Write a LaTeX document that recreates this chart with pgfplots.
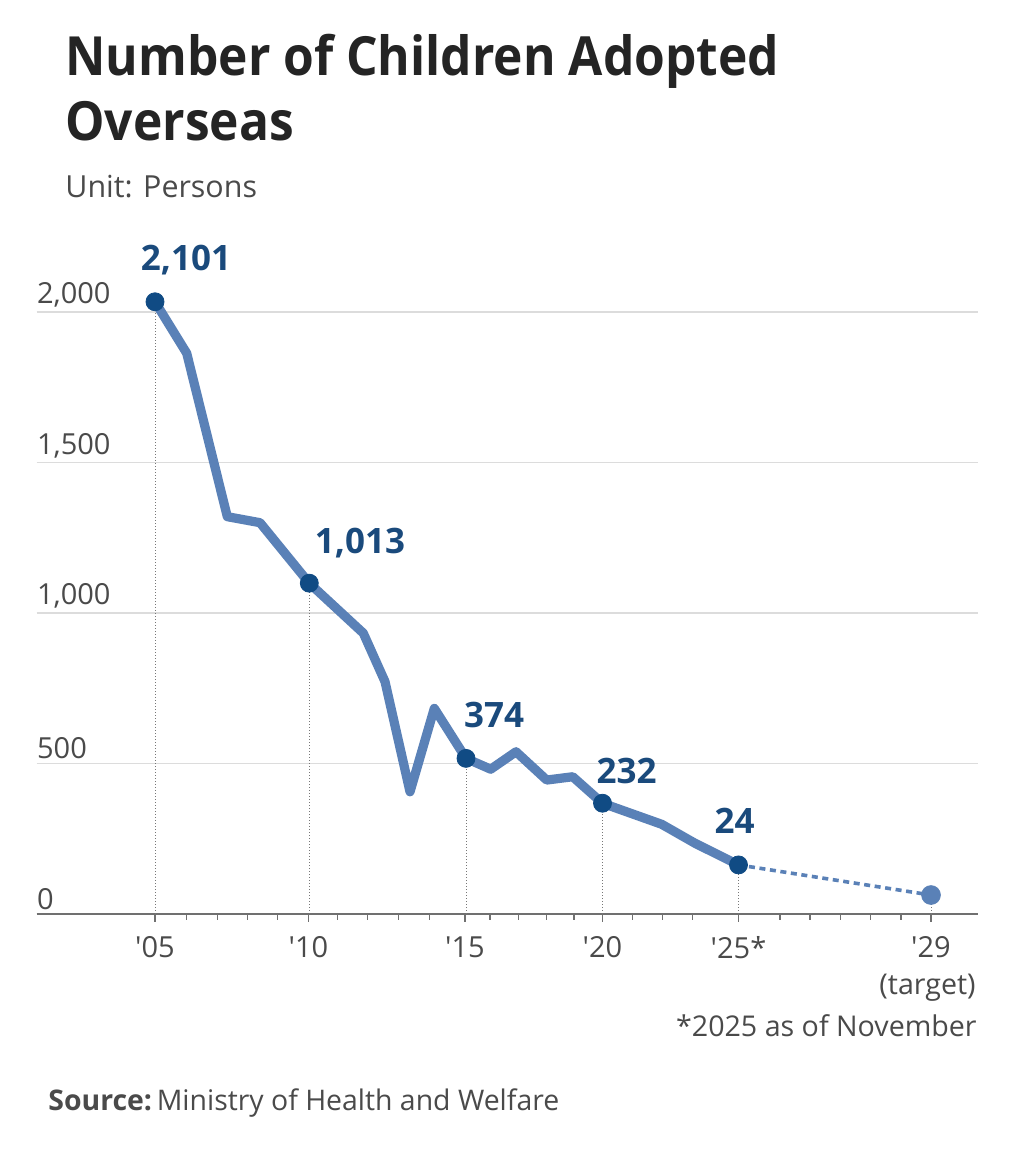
\documentclass[border=0pt]{standalone}
\usepackage{fontspec}
\setmainfont{Open Sans}
\newfontfamily\titlefont[FakeStretch=0.92]{Open Sans}
\usepackage{pgfplots}
\pgfplotsset{compat=1.18}
\definecolor{lineblue}{HTML}{5A81B7}
\definecolor{dotblue}{HTML}{104B84}
\definecolor{labblue}{HTML}{1A4A7C}
\definecolor{gridgray}{HTML}{DCDCDC}
\definecolor{axisgray}{HTML}{707070}
\definecolor{ticktext}{HTML}{4A4A4A}
\definecolor{titlecol}{HTML}{242424}
\definecolor{droplinecol}{HTML}{777777}
\begin{document}
\begin{tikzpicture}
\useasboundingbox (0,0) rectangle (512pt,578pt);
\fill[white] (0,0) rectangle (512pt,578pt);
\begin{axis}[
  at={(18.35pt,121pt)}, anchor=south west,
  scale only axis, width=470.65pt, height=301pt,
  xmin=36.7, xmax=978, ymin=0, ymax=2000,
  clip=false,
  axis x line=bottom, axis y line=left,
  y axis line style={draw=none},
  x axis line style={axisgray, line width=0.75pt, -},
  ytick={0,500,1000,1500,2000},
  ymajorgrids, grid style={gridgray, line width=0.6pt},
  major y tick style={draw=none},
  xtick={155,308.5,465,602.5,738.5,931},
  xticklabels={\textquotesingle 05,\textquotesingle 10,\textquotesingle 15,\textquotesingle 20,\textquotesingle 25*,\textquotesingle 29},
  minor xtick={186.7,217.3,247.7,277.3,337.7,367.7,398.3,429.3,490,518.3,546.7,574,632.5,662.5,692.5,780,810,840.7,870.7,901},
  tick align=outside,
  major tick length=4pt, minor tick length=3pt,
  every tick/.style={axisgray, line width=0.6pt},
  /pgf/number format/.cd, 1000 sep={,}, assume math mode=true,
  /pgfplots/.cd,
  scaled y ticks=false,
  ticklabel style={font=\fontsize{14.5}{16}\selectfont, text=ticktext},
  yticklabel style={anchor=south west, inner sep=0pt, xshift=4pt, yshift=2pt},
  xticklabel style={anchor=north, inner sep=0pt, yshift=-7pt},
]
\addplot[ycomb, densely dotted, droplinecol, line width=0.5pt, no marks] coordinates {
  (155,2034) (309.3,1099) (466,517) (602.5,368) (738.5,163) (931,63)};
\addplot[lineblue, line width=1.8pt, dash pattern=on 3pt off 2.3pt, no marks] coordinates {
  (738.5,163) (931,63)};
\addplot[lineblue, line width=4.6pt, line join=round, no marks] coordinates {
  (155,2034) (186.7,1863) (227.3,1320) (260,1300) (309.3,1099)
  (363.3,933) (385,772) (410,406) (434.3,683) (466,517)
  (490.7,481) (516,539) (546.7,445) (572.7,456) (602.5,368)
  (661.7,298) (695,235) (738.5,163)};
\addplot[only marks, mark=*, mark size=4.5pt, color=dotblue] coordinates {
  (155,2034) (309.3,1099) (466,517) (602.5,368) (738.5,163)};
\addplot[only marks, mark=*, mark size=4.7pt, color=lineblue] coordinates {
  (931,63)};
\begin{scope}[every node/.style={font=\bfseries\fontsize{17.5}{19}\selectfont, text=labblue, anchor=base, inner sep=0pt}]
\node at (axis cs:186,2139.5) {2,101};
\node at (axis cs:360,1198) {1,013};
\node at (axis cs:494,619) {374};
\node at (axis cs:626.5,432) {232};
\node at (axis cs:734.5,266) {24};
\end{scope}
\end{axis}
\begin{scope}[x=0.5pt, y=-0.5pt, shift={(0pt,578pt)}]
\node[anchor=base west, inner sep=0pt, font=\titlefont\bfseries\fontsize{27}{30}\selectfont, text=titlecol] at (65,76) {Number of Children Adopted};
\node[anchor=base west, inner sep=0pt, font=\titlefont\bfseries\fontsize{27}{30}\selectfont, text=titlecol] at (65,141) {Overseas};
\node[anchor=base west, inner sep=0pt, font=\fontsize{15.2}{17}\selectfont, text=ticktext] at (65,198) {Unit: Persons};
\node[anchor=base east, inner sep=0pt, font=\fontsize{14.3}{16}\selectfont, text=ticktext] at (976,995) {(target)};
\node[anchor=base east, inner sep=0pt, font=\fontsize{14.3}{16}\selectfont, text=ticktext] at (977,1036.7) {*2025 as of November};
\node[anchor=base west, inner sep=0pt, font=\fontsize{14.2}{16}\selectfont, text=ticktext] at (48,1111) {\textbf{Source:}\,Ministry of Health and Welfare};
\end{scope}
\end{tikzpicture}
\end{document}
